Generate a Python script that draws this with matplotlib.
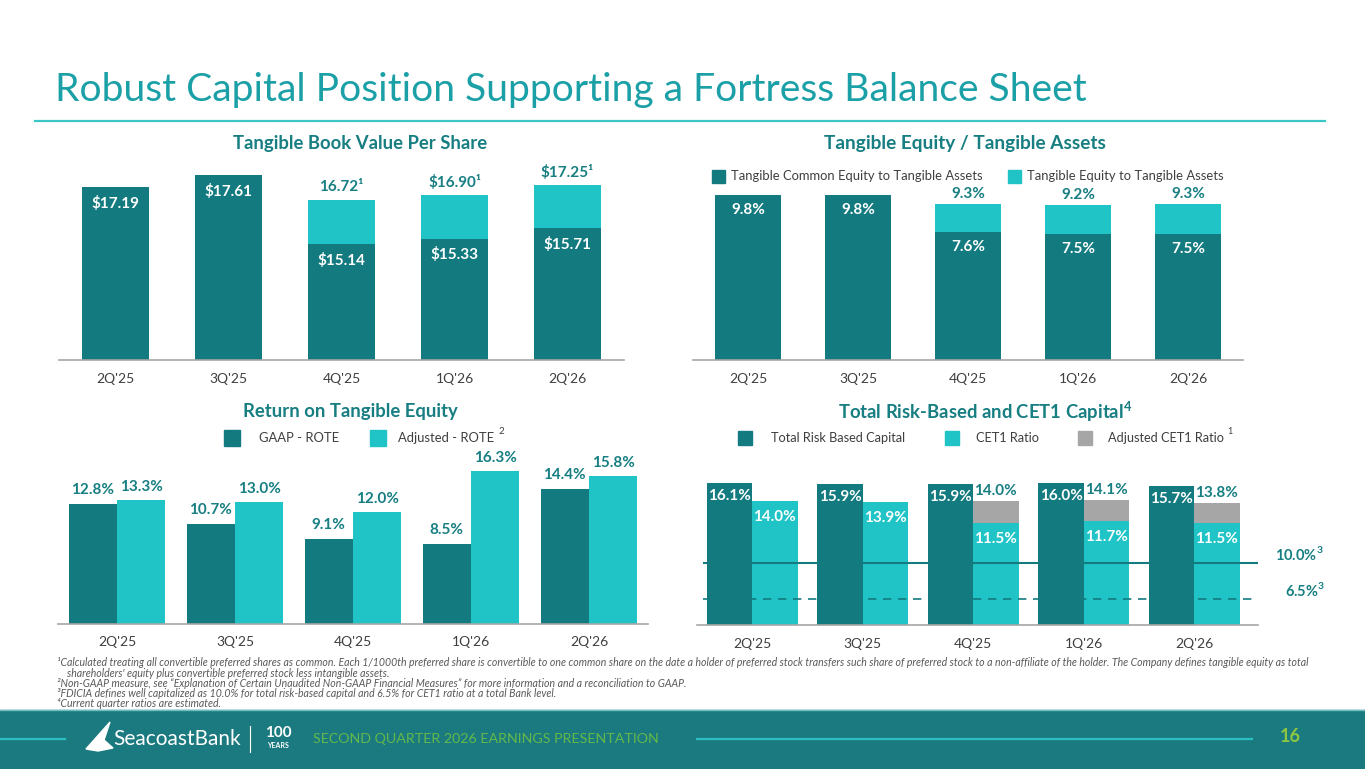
import numpy as np
import matplotlib
matplotlib.use("Agg")
import matplotlib.pyplot as plt
from matplotlib.patches import Rectangle, Polygon

# ---------------- data ----------------
quarters = ["2Q'25", "3Q'25", "4Q'25", "1Q'26", "2Q'26"]
tbvps_common = [17.19, 17.61, 15.14, 15.33, 15.71]
tbvps_total = [np.nan, np.nan, 16.72, 16.90, 17.25]
tbvps_total_labels = ["", "", "16.72\u00b9", "$16.90\u00b9", "$17.25\u00b9"]
tce_ta = [9.8, 9.8, 7.6, 7.5, 7.5]
te_ta = [np.nan, np.nan, 9.3, 9.2, 9.3]
rote_gaap = [12.8, 10.7, 9.1, 8.5, 14.4]
rote_adj = [13.3, 13.0, 12.0, 16.3, 15.8]
total_rbc = [16.1, 15.9, 15.9, 16.0, 15.7]
cet1 = [14.0, 13.9, 11.5, 11.7, 11.5]
adj_cet1 = [np.nan, np.nan, 14.0, 14.1, 13.8]
well_cap_trbc = 10.0
well_cap_cet1 = 6.5

# ---------------- style ----------------
DARK = '#137A80'
LIGHT = '#20C4C6'
GRAY = '#A6A6A6'
TXT_TEAL = '#177E82'
TITLE_C = '#1AA0A6'
AX_C = '#A6A6A6'
CAT_C = '#3F3F3F'
FONT = ['Lato', 'DejaVu Sans']
plt.rcParams['font.family'] = FONT
plt.rcParams['mathtext.fontset'] = 'custom'
plt.rcParams['mathtext.rm'] = 'Lato'
plt.rcParams['mathtext.bf'] = 'Lato:bold'

W, H = 1365, 769
fig = plt.figure(figsize=(W / 100, H / 100), dpi=100)
fig.patch.set_facecolor('white')


def axpx(x0, y0, x1, y1):
    return fig.add_axes([x0 / W, 1 - y1 / H, (x1 - x0) / W, (y1 - y0) / H])


def ftxt(x, y, s, **kw):
    return fig.text(x / W, 1 - y / H, s, **kw)


def style_ax(ax, xlim, ylim):
    ax.set_xlim(*xlim)
    ax.set_ylim(*ylim)
    for s in ['top', 'right', 'left']:
        ax.spines[s].set_visible(False)
    ax.spines['bottom'].set_color(AX_C)
    ax.spines['bottom'].set_linewidth(1.2)
    ax.set_yticks([])
    ax.set_xticks(range(len(quarters)))
    ax.set_xticklabels(quarters, fontsize=10, color=CAT_C)
    ax.tick_params(axis='x', length=0, pad=9)
    ax.patch.set_alpha(0)


def lab(ax, x, y, s, dy, color='white', size=11):
    ax.annotate(s, (x, y), xytext=(0, dy), textcoords='offset pixels',
                ha='center', va='center', fontsize=size, fontweight='bold', color=color)


x = np.arange(len(quarters))
SUB = 13.3

# ---------------- title ----------------
ftxt(55, 90, 'Robust Capital Position Supporting a Fortress Balance Sheet',
     fontsize=28.1, color=TITLE_C, va='center', ha='left')
fig.add_artist(plt.Line2D([35 / W, 1325 / W], [1 - 121 / H, 1 - 121 / H],
                          color='#3CC6C6', lw=1.6))

# ---------------- panel 1: TBVPS ----------------
ax1 = axpx(59, 160, 624, 360)
style_ax(ax1, (-0.5, 4.5), (10.97, 10.97 + 200 / 27.8))
ax1.bar(x, tbvps_common, width=0.6, color=DARK, bottom=0)
seg = np.array(tbvps_total) - np.array(tbvps_common)
ax1.bar(x, seg, width=0.6, bottom=tbvps_common, color=LIGHT)
for i in x:
    lab(ax1, i, tbvps_common[i], f"${tbvps_common[i]:.2f}", -16)
    if not np.isnan(tbvps_total[i]):
        lab(ax1, i, tbvps_total[i], tbvps_total_labels[i], 13, color=TXT_TEAL)
ftxt(360, 143, 'Tangible Book Value Per Share', fontsize=SUB, fontweight='bold',
     color=TXT_TEAL, ha='center', va='center')

# ---------------- panel 2: TE/TA ----------------
ax2 = axpx(693, 160, 1243, 360)
style_ax(ax2, (-0.5, 4.5), (0, 200 / 16.8))
ax2.bar(x, tce_ta, width=0.6, color=DARK)
seg2 = np.array(te_ta) - np.array(tce_ta)
ax2.bar(x, seg2, width=0.6, bottom=tce_ta, color=LIGHT)
for i in x:
    lab(ax2, i, tce_ta[i], f"{tce_ta[i]:.1f}%", -15)
    if not np.isnan(te_ta[i]):
        lab(ax2, i, te_ta[i], f"{te_ta[i]:.1f}%", 10, color=TXT_TEAL)
ftxt(965, 143, 'Tangible Equity / Tangible Assets', fontsize=SUB + 0.4, fontweight='bold',
     color=TXT_TEAL, ha='center', va='center')
fig.add_artist(Rectangle((712 / W, 1 - 183 / H), 13 / W, 13 / H, color=DARK))
ftxt(731, 176, 'Tangible Common Equity to Tangible Assets', fontsize=9.4, color=CAT_C, va='center')
fig.add_artist(Rectangle((1008 / W, 1 - 183 / H), 13 / W, 13 / H, color=LIGHT))
ftxt(1027, 176, 'Tangible Equity to Tangible Assets', fontsize=9.4, color=CAT_C, va='center')

# ---------------- panel 3: ROTE ----------------
ax3 = axpx(58, 440, 648, 624)
style_ax(ax3, (-0.5, 4.5), (0, 184 / 9.36))
bw = 0.41
ax3.bar(x - bw / 2, rote_gaap, width=bw, color=DARK)
ax3.bar(x + bw / 2, rote_adj, width=bw, color=LIGHT)
for i in x:
    lab(ax3, i - bw / 2, rote_gaap[i], f"{rote_gaap[i]:.1f}%", 14, color=TXT_TEAL)
    lab(ax3, i + bw / 2, rote_adj[i], f"{rote_adj[i]:.1f}%", 13, color=TXT_TEAL)
ftxt(350, 412, 'Return on Tangible Equity', fontsize=SUB, fontweight='bold',
     color=TXT_TEAL, ha='center', va='center')
fig.add_artist(Rectangle((224 / W, 1 - 446 / H), 16 / W, 16 / H, color=DARK))
ftxt(259, 438, 'GAAP - ROTE', fontsize=9.4, color=CAT_C, va='center')
fig.add_artist(Rectangle((370 / W, 1 - 446 / H), 16 / W, 16 / H, color=LIGHT))
ftxt(398, 438, 'Adjusted - ROTE', fontsize=9.4, color=CAT_C, va='center')
ftxt(499, 432, '2', fontsize=7, color=CAT_C, va='center')

# ---------------- panel 4: Capital ----------------
ax4 = axpx(697, 440, 1258, 625)
style_ax(ax4, (-0.5, -0.5 + 561 / 110.5), (0, 185 / 8.85))
ax4.bar(x - bw / 2, total_rbc, width=bw, color=DARK)
ax4.bar(x + bw / 2, cet1, width=bw, color=LIGHT)
seg4 = np.array(adj_cet1) - np.array(cet1)
ax4.bar(x + bw / 2, seg4, width=bw, bottom=cet1, color=GRAY)
for i in x:
    lab(ax4, i - bw / 2, total_rbc[i], f"{total_rbc[i]:.1f}%", -13)
    lab(ax4, i + bw / 2, cet1[i], f"{cet1[i]:.1f}%", -16)
    if not np.isnan(adj_cet1[i]):
        lab(ax4, i + bw / 2, adj_cet1[i], f"{adj_cet1[i]:.1f}%", 10, color=TXT_TEAL)
# threshold lines on their own reference scale
ax4b = ax4.twinx()
ax4b.set_ylim(10 - 62 / 10.286, 10 - 62 / 10.286 + 185 / 10.286)
ax4b.axis('off')
ax4b.plot([-0.45, 4.577], [well_cap_trbc] * 2, color=DARK, lw=1.5, solid_capstyle='butt')
ax4b.plot([-0.45, 4.577], [well_cap_cet1] * 2, color=DARK, lw=1.2, ls=(0, (5, 4)))
ax4b.set_xlim(ax4.get_xlim())
ax4b.annotate(f"{well_cap_trbc:.1f}%" + r"$^{\mathbf{3}}$", (4.577, well_cap_trbc), xytext=(17, 9),
              textcoords='offset pixels', ha='left', va='center', fontsize=10.5,
              fontweight='bold', color=TXT_TEAL, annotation_clip=False)
ax4b.annotate(f"{well_cap_cet1:.1f}%" + r"$^{\mathbf{3}}$", (4.577, well_cap_cet1), xytext=(27, 9),
              textcoords='offset pixels', ha='left', va='center', fontsize=10.5,
              fontweight='bold', color=TXT_TEAL, annotation_clip=False)
ftxt(985, 412, 'Total Risk-Based and CET1 Capital' + r"$^{\mathbf{4}}$", fontsize=SUB, fontweight='bold',
     color=TXT_TEAL, ha='center', va='center')
fig.add_artist(Rectangle((738 / W, 1 - 445 / H), 14 / W, 14 / H, color=DARK))
ftxt(771, 438, 'Total Risk Based Capital', fontsize=9.2, color=CAT_C, va='center')
fig.add_artist(Rectangle((945 / W, 1 - 445 / H), 14 / W, 14 / H, color=LIGHT))
ftxt(976, 438, 'CET1 Ratio', fontsize=9.2, color=CAT_C, va='center')
fig.add_artist(Rectangle((1078 / W, 1 - 445 / H), 14 / W, 14 / H, color=GRAY))
ftxt(1108, 438, 'Adjusted CET1 Ratio', fontsize=9.2, color=CAT_C, va='center')
ftxt(1227, 432, '1', fontsize=6.5, color=CAT_C, va='center')

# ---------------- footnotes ----------------
notes = [
    "\u00b9Calculated treating all convertible preferred shares as common. Each 1/1000th preferred share is convertible to one common share on the date a holder of preferred stock transfers such share of preferred stock to a non-affiliate of the holder. The Company defines tangible equity as total",
    "    shareholders' equity plus convertible preferred stock less intangible assets.",
    "\u00b2Non-GAAP measure, see \u201cExplanation of Certain Unaudited Non-GAAP Financial Measures\u201d for more information and a reconciliation to GAAP.",
    "\u00b3FDICIA defines well capitalized as 10.0% for total risk-based capital and 6.5% for CET1 ratio at a total Bank level.",
    "\u2074Current quarter ratios are estimated.",
]
for k, s in enumerate(notes):
    ftxt(57, 663 + 10.2 * k, s, fontsize=7.6, style='italic', color='#595959', va='center')

# ---------------- footer ----------------
fig.add_artist(Rectangle((0, 0), 1, 59 / H, color='#1B7A7F', zorder=0))
fig.add_artist(plt.Line2D([0, 1], [59 / H, 59 / H], color='#6FBDBD', lw=1))
fig.add_artist(plt.Line2D([0, 65 / W], [1 - 739 / H] * 2, color='#2CC0C0', lw=1.6))
fig.add_artist(plt.Line2D([697 / W, 1252 / W], [1 - 739 / H] * 2, color='#2CC0C0', lw=1.6))
sail = np.array([[86, 749], [110, 722], [104, 740], [113, 748], [98, 751]])
fig.add_artist(Polygon(np.c_[sail[:, 0] / W, 1 - sail[:, 1] / H], closed=True, color='white'))
ftxt(113, 739, 'SeacoastBank', fontsize=15, color='white', va='center')
fig.add_artist(plt.Line2D([250 / W, 250 / W], [1 - 726 / H, 1 - 752 / H], color='white', lw=0.8))
ftxt(278, 733, '100', fontsize=11, fontweight='bold', color='white', va='center', ha='center')
ftxt(278, 746, 'YEARS', fontsize=5, fontweight='bold', color='white', va='center', ha='center')
ftxt(313, 739, 'SECOND QUARTER 2026 EARNINGS PRESENTATION', fontsize=10.3, color='#62B84B', va='center')
ftxt(1290, 737, '16', fontsize=13, fontweight='bold', color='#8DC63F', va='center', ha='center')

fig.savefig('out.png', dpi=100)
